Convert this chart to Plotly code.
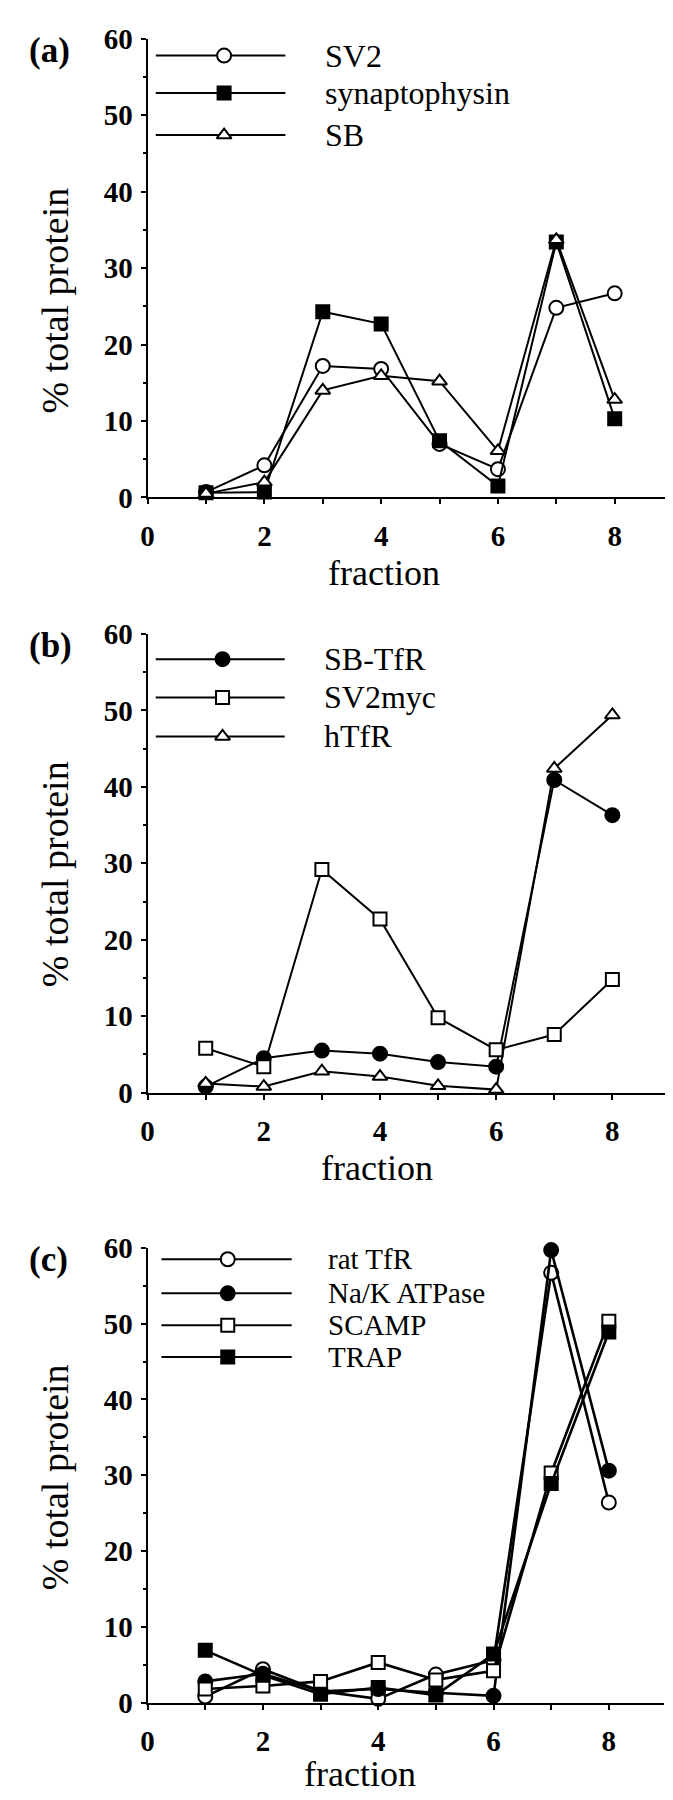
import plotly.graph_objects as go

# fraction number along the gradient
fractions = [1, 2, 3, 4, 5, 6, 7, 8]

# (a) endogenous proteins
sv2 = [0.7, 4.2, 17.2, 16.8, 7.0, 3.7, 24.8, 26.7]
synaptophysin = [0.6, 0.7, 24.3, 22.7, 7.4, 1.5, 33.4, 10.3]
sb = [0.5, 2.0, 14.0, 15.9, 15.2, 6.1, 33.7, 12.8]

# (b) transfected constructs
sb_tfr = [0.8, 4.5, 5.5, 5.1, 4.0, 3.4, 40.9, 36.3]
sv2myc = [5.8, 3.4, 29.2, 22.7, 9.8, 5.6, 7.6, 14.8]
htfr = [1.2, 0.8, 2.8, 2.1, 0.9, 0.4, 42.4, 49.4]

# (c) markers
rat_tfr = [0.8, 4.4, 1.5, 0.5, 3.7, 5.6, 56.7, 26.4]
na_k_atpase = [2.8, 3.8, 1.5, 1.8, 1.3, 0.9, 59.7, 30.6]
scamp = [1.8, 2.2, 2.8, 5.3, 3.0, 4.2, 30.3, 50.3]
trap = [6.9, 3.6, 1.1, 2.0, 1.0, 6.4, 28.9, 48.9]

x_ticks = [0, 2, 4, 6, 8]
y_ticks = [0, 10, 20, 30, 40, 50, 60]

W, H = 673, 1800
SERIF = "Liberation Serif, Times New Roman, Times, serif"

# marker styles: (symbol, filled)
OPEN_CIRCLE = ("circle", False)
FILLED_CIRCLE = ("circle", True)
OPEN_SQUARE = ("square", False)
FILLED_SQUARE = ("square", True)
OPEN_TRIANGLE = ("triangle-up", False)

panels = [
    dict(label="(a)", series=[("SV2", sv2, OPEN_CIRCLE),
                              ("synaptophysin", synaptophysin, FILLED_SQUARE),
                              ("SB", sb, OPEN_TRIANGLE)],
         xend=9.0, xpx=(134, 665), ypx=(15, 482),
         leg_rows=[57.8, 52.9, 47.4], leg_x=(0.14, 1.31, 2.36, 3.0),
         leg_size=32, ytitle_px=282, frac_x=4.05, frac_dy=77),
    dict(label="(b)", series=[("SB-TfR", sb_tfr, FILLED_CIRCLE),
                              ("SV2myc", sv2myc, OPEN_SQUARE),
                              ("hTfR", htfr, OPEN_TRIANGLE)],
         xend=8.96, xpx=(134, 660), ypx=(621, 1088),
         leg_rows=[56.7, 51.7, 46.6], leg_x=(0.14, 1.29, 2.36, 3.0),
         leg_size=32, ytitle_px=866, frac_x=3.95, frac_dy=77),
    dict(label="(c)", series=[("rat TfR", rat_tfr, OPEN_CIRCLE),
                              ("Na/K ATPase", na_k_atpase, FILLED_CIRCLE),
                              ("SCAMP", scamp, OPEN_SQUARE),
                              ("TRAP", trap, FILLED_SQUARE)],
         xend=8.96, xpx=(134, 656), ypx=(1246, 1709),
         leg_rows=[58.5, 54.0, 49.8, 45.6], leg_x=(0.24, 1.39, 2.5, 3.09),
         leg_size=29, ytitle_px=1480, frac_x=3.68, frac_dy=73),
]


def marker_style(kind, size):
    symbol, filled = kind
    return dict(symbol=symbol, size=size,
                color="black" if filled else "white",
                line=dict(color="black", width=2))


fig = go.Figure()
annotations = []
sizes = {"circle": 14, "square": 13, "triangle-up": 13}

for i, p in enumerate(panels, start=1):
    xa = "x" if i == 1 else f"x{i}"
    ya = "y" if i == 1 else f"y{i}"
    lw = 2.6 if i == 3 else 2

    # data lines
    for name, vals, kind in p["series"]:
        fig.add_trace(go.Scatter(
            x=fractions, y=vals, name=name, mode="lines+markers",
            line=dict(color="black", width=lw),
            marker=marker_style(kind, sizes[kind[0]]),
            cliponaxis=False, showlegend=False,
            xaxis=xa, yaxis=ya))

    # hand-drawn style legend: long line with the marker in the middle
    x0, xm, x1, xt = p["leg_x"]
    for (name, vals, kind), ry in zip(p["series"], p["leg_rows"]):
        fig.add_trace(go.Scatter(
            x=[x0, x1], y=[ry, ry], mode="lines",
            line=dict(color="black", width=2),
            showlegend=False, hoverinfo="skip", cliponaxis=False,
            xaxis=xa, yaxis=ya))
        fig.add_trace(go.Scatter(
            x=[xm], y=[ry], mode="markers",
            marker=marker_style(kind, sizes[kind[0]]),
            showlegend=False, hoverinfo="skip", cliponaxis=False,
            xaxis=xa, yaxis=ya))
        annotations.append(dict(
            x=xt, y=ry, xref=xa, yref=ya, text=name, showarrow=False,
            xanchor="left", yanchor="middle",
            font=dict(family=SERIF, size=p["leg_size"], color="black")))

    # axes, placed by pixel position in the page
    xl, xr = p["xpx"]
    yt, yb = p["ypx"]
    xdom = [xl / W, xr / W]
    ydom = [1 - yb / H, 1 - yt / H]
    axis_common = dict(
        showline=True, linecolor="black", linewidth=2,
        ticks="outside", tickcolor="black", tickwidth=2, ticklen=5,
        showgrid=False, zeroline=False, fixedrange=True,
        tickfont=dict(family=SERIF, size=29, color="black", weight="bold"))
    fig.layout[f"xaxis{'' if i == 1 else i}"] = dict(
        axis_common, domain=xdom, range=[0, p["xend"]],
        tickvals=x_ticks, anchor=ya, ticklabelstandoff=7,
        minor=dict(dtick=1, ticks="outside", ticklen=5, tickwidth=2,
                   tickcolor="black"))
    fig.layout[f"yaxis{'' if i == 1 else i}"] = dict(
        axis_common, domain=ydom, range=[0, 60],
        tickvals=y_ticks, anchor=xa, ticklabelstandoff=2,
        minor=dict(dtick=5, ticks="outside", ticklen=3, tickwidth=2,
                   tickcolor="black"))

    # panel label, axis titles
    annotations.append(dict(
        x=12 / W, y=1 - (yt + 12) / H, xref="paper", yref="paper",
        text=f"<b>{p['label']}</b>", showarrow=False,
        xanchor="left", yanchor="middle",
        font=dict(family=SERIF, size=35, color="black")))
    annotations.append(dict(
        x=40 / W, y=1 - p["ytitle_px"] / H, xref="paper", yref="paper",
        text="% total protein", textangle=-90, showarrow=False,
        xanchor="center", yanchor="middle",
        font=dict(family=SERIF, size=38, color="black")))
    annotations.append(dict(
        x=p["frac_x"], y=1 - (yb + p["frac_dy"]) / H, xref=xa, yref="paper",
        text="fraction", showarrow=False,
        xanchor="center", yanchor="middle",
        font=dict(family=SERIF, size=36, color="black")))

fig.update_layout(
    width=W, height=H,
    margin=dict(l=0, r=0, t=0, b=0),
    paper_bgcolor="white", plot_bgcolor="white",
    annotations=annotations,
    showlegend=False,
)

fig.write_html("out.html")
